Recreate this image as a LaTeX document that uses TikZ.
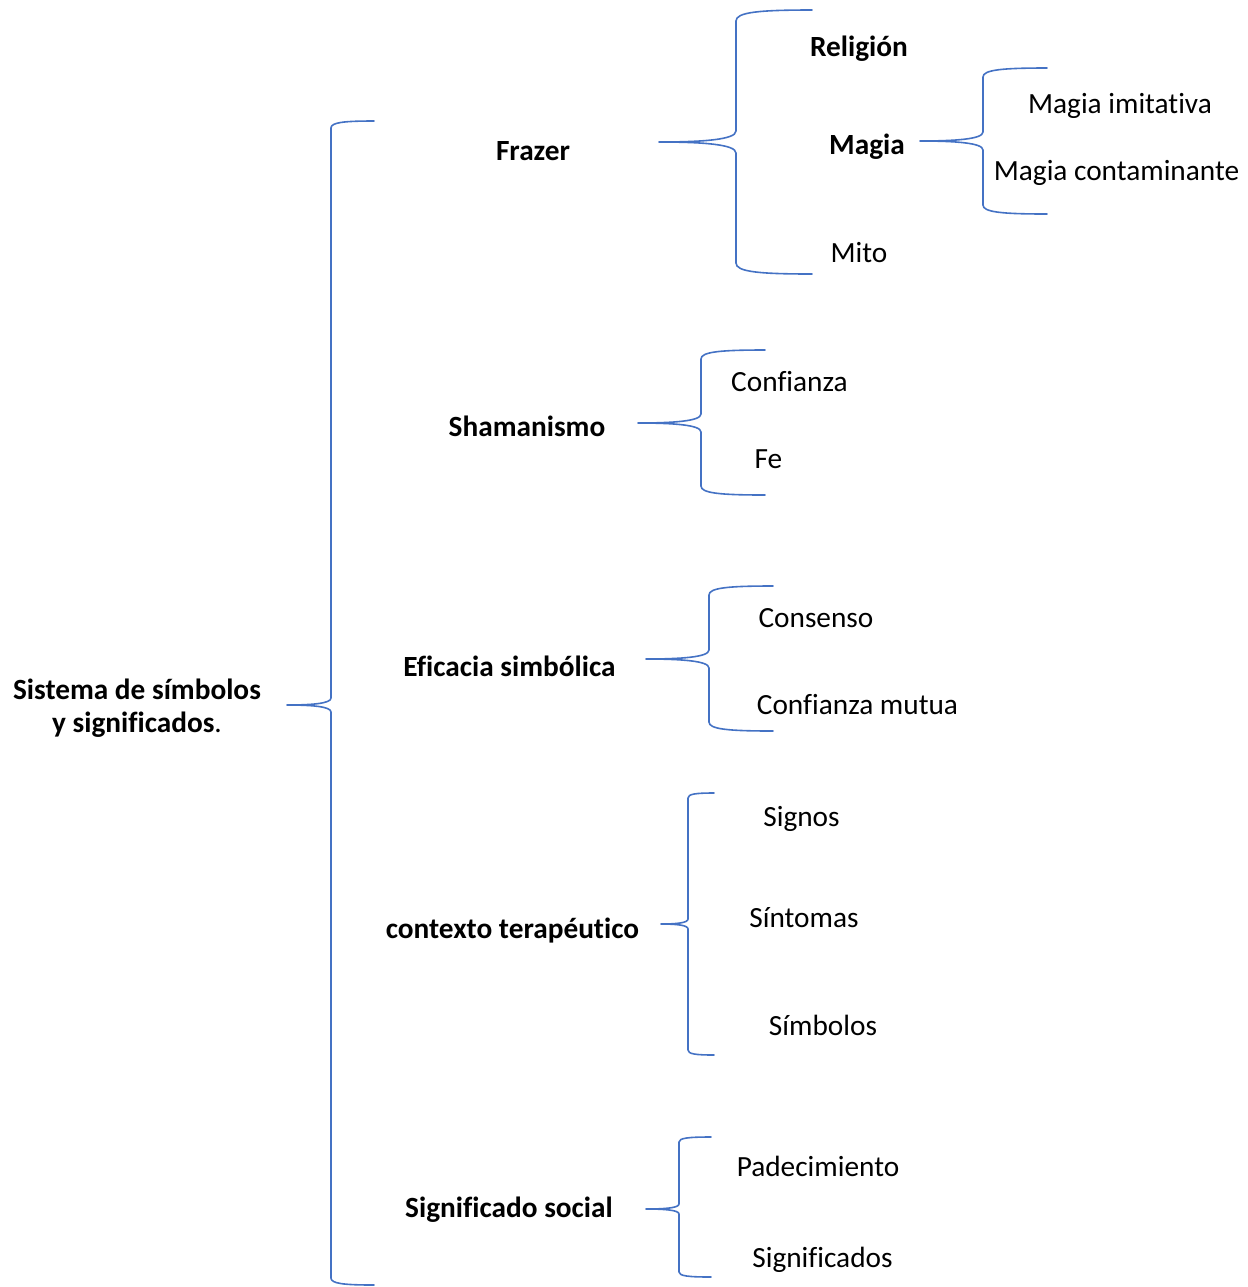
\documentclass[tikz,border=0pt]{standalone}
\usepackage{fontspec}
\setmainfont[Ligatures={NoCommon}]{Carlito}
\definecolor{wordblue}{HTML}{4472C4}
% left curly bracket: tip x, tip y, spine x, end x, top y, bottom y, bend
\newcommand{\wordbrace}[7]{%
  \draw[brace line] (#4,#5) .. controls ({#3+0.3*(#4-#3)},#5) and (#3,{#5+0.2*#7}) .. (#3,{#5+#7})
    -- (#3,{#2-#7}) .. controls (#3,{#2-0.2*#7}) and ({#3-0.45*(#3-#1)},#2) .. (#1,#2)
    .. controls ({#3-0.45*(#3-#1)},#2) and (#3,{#2+0.2*#7}) .. (#3,{#2+#7})
    -- (#3,{#6-#7}) .. controls (#3,{#6-0.2*#7}) and ({#3+0.3*(#4-#3)},#6) .. (#4,#6);}
\tikzset{
  brace line/.style={draw=wordblue, line width=0.8pt, line join=round, line cap=round},
  lbl/.style={anchor=base, inner sep=0pt, font=\fontsize{14.65}{17}\selectfont},
  hd/.style={anchor=base, inner sep=0pt, font=\fontsize{14.65}{17}\selectfont\bfseries}
}
\begin{document}
\begin{tikzpicture}[x=0.5pt, y=-0.5pt]
  \useasboundingbox (0,0) rectangle (1248,1287);
  % main bracket
  \wordbrace{287}{705}{331}{374}{121}{1285}{7}
  \node[hd] (sistema) at (137,699) {Sistema de símbolos};
  \node[hd] (signif) at (137,732) {y significados\mdseries.};
  % Frazer
  \node[hd] (frazer) at (533,160) {Frazer};
  \wordbrace{659}{142}{736}{812}{10}{274}{11}
  \node[hd] (religion) at (859,56) {Religión};
  \node[hd] (magia) at (867,154) {Magia};
  \node[lbl] (mito) at (859,262) {Mito};
  \wordbrace{920}{141}{983}{1047}{68}{214}{9}
  \node[lbl] (imitativa) at (1120,113) {Magia imitativa};
  \node[lbl] (contaminante) at (1116.5,180) {Magia contaminante};
  % Shamanismo
  \node[hd] (shaman) at (527,436) {Shamanismo};
  \wordbrace{638}{423}{701}{765}{350}{495}{9}
  \node[lbl] (confianza) at (789.5,391) {Confianza};
  \node[lbl] (fe) at (768.5,468) {Fe};
  % Eficacia simbolica
  \node[hd] (eficacia) at (509.5,676) {Eficacia simbólica};
  \wordbrace{646}{659}{709}{773}{586}{731}{9}
  \node[lbl] (consenso) at (816,627) {Consenso};
  \node[lbl] (mutua) at (857.5,714) {Confianza mutua};
  % contexto terapeutico
  \node[hd] (contexto) at (512.5,938) {contexto terapéutico};
  \wordbrace{661}{924}{688}{714}{793}{1055}{5}
  \node[lbl] (signos) at (801.5,826) {Signos};
  \node[lbl] (sintomas) at (804,927) {Síntomas};
  \node[lbl] (simbolos) at (823,1035) {Símbolos};
  % Significado social
  \node[hd] (social) at (509,1217) {Significado social};
  \wordbrace{646}{1209}{679}{711}{1137}{1277}{5}
  \node[lbl] (padecimiento) at (818,1176) {Padecimiento};
  \node[lbl] (significados) at (822.5,1267) {Significados};
\end{tikzpicture}
\end{document}
